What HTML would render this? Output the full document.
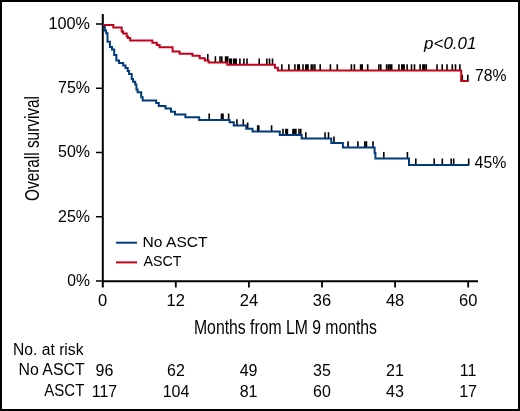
<!DOCTYPE html>
<html><head><meta charset="utf-8"><style>
html,body{margin:0;padding:0;background:#fff;}
svg{display:block;will-change:transform;}
text{font-family:"Liberation Sans",sans-serif;fill:#000;}
</style></head><body>
<svg width="520" height="411" viewBox="0 0 520 411">
<rect x="1" y="1" width="518" height="409" fill="#fff" stroke="#000" stroke-width="2"/><path d="M102.8 14V287.6M102 281.2H478" stroke="#000" stroke-width="2" fill="none"/><path d="M96 281.00H102M96 216.75H102M96 152.50H102M96 88.25H102M96 24.00H102" stroke="#000" stroke-width="1.6" fill="none"/><path d="M175.80 282V287.6M248.90 282V287.6M322.00 282V287.6M395.10 282V287.6M468.20 282V287.6" stroke="#000" stroke-width="1.8" fill="none"/><path d="M207.8 54.1V60.4M215.4 56.3V62.6M220.0 56.3V62.6M221.8 56.3V62.6M225.6 56.3V62.6M226.8 56.3V62.6M227.7 56.3V62.6M229.8 58.4V64.7M231.2 58.4V64.7M233.6 58.4V64.7M235.0 58.4V64.7M236.2 58.4V64.7M239.9 58.4V64.7M243.9 58.4V64.7M247.0 58.4V64.7M259.2 58.4V64.7M266.8 58.4V64.7M269.5 58.4V64.7M272.5 58.4V64.7M281.8 64.2V70.5M288.9 64.2V70.5M294.9 64.2V70.5M297.8 64.2V70.5M299.3 64.2V70.5M303.0 64.2V70.5M305.8 64.2V70.5M307.0 64.2V70.5M308.0 64.2V70.5M311.3 64.2V70.5M313.0 64.2V70.5M314.9 64.2V70.5M320.2 64.2V70.5M330.4 64.2V70.5M337.3 64.2V70.5M351.4 64.2V70.5M354.4 64.2V70.5M360.6 64.2V70.5M362.2 64.2V70.5M367.7 64.2V70.5M378.9 64.2V70.5M380.8 64.2V70.5M386.6 64.2V70.5M388.5 64.2V70.5M390.2 64.2V70.5M391.7 64.2V70.5M398.9 64.2V70.5M401.8 64.2V70.5M403.0 64.2V70.5M404.1 64.2V70.5M407.1 64.2V70.5M411.5 64.2V70.5M414.5 64.2V70.5M420.1 64.2V70.5M422.9 64.2V70.5M424.5 64.2V70.5M426.3 64.2V70.5M437.0 64.2V70.5M442.2 64.2V70.5M447.0 64.2V70.5M452.3 64.2V70.5M455.5 64.2V70.5M459.9 64.2V70.5M462.3 74.7V81.0M467.8 74.7V81.0M209.2 113.6V119.9M221.5 113.6V119.9M223.0 113.6V119.9M228.6 113.6V119.9M236.9 119.3V125.6M243.3 119.3V125.6M247.7 122.4V128.7M257.7 125.3V131.6M258.8 125.3V131.6M271.6 125.3V131.6M283.0 128.7V135.0M285.9 128.7V135.0M287.4 128.7V135.0M293.0 128.7V135.0M294.5 128.7V135.0M295.9 128.7V135.0M299.0 128.7V135.0M300.8 128.7V135.0M305.8 132.3V138.6M325.0 132.3V138.6M328.5 132.3V138.6M334.0 136.6V142.9M348.1 141.3V147.6M357.9 141.3V147.6M364.8 141.3V147.6M366.5 141.3V147.6M373.0 141.3V147.6M383.8 152.1V158.4M407.4 152.1V158.4M415.8 158.6V164.9M434.2 158.6V164.9M442.3 158.6V164.9M451.2 158.6V164.9M453.7 158.6V164.9M468.7 158.6V164.9" stroke="#000" stroke-width="1.6" fill="none"/><path d="M103.5 25.3 H104.8 V30.6 H106.1 V33.2 H107.5 V41.8 H109.9 V46.9 H112 V49.5 H114.2 V55 H116.4 V60.4 H119 V63 H123.2 V65.5 H125.5 V68 H127.7 V71 H129.1 V73.9 H131.7 V79 H133.1 V81.7 H135.2 V84.5 H136.4 V89.6 H137.6 V92.3 H141.2 V97.3 H142.7 V100.6 H156.2 V103.1 H158.8 V106 H165.5 V108.6 H171 V111.7 H175 V114.6 H185.4 V117.2 H199.2 V119.9 H229.6 V122.2 H233.8 V125.6 H246.2 V128.7 H252.5 V131.6 H279.8 V135 H301.7 V138.6 H331.3 V142.9 H342.9 V147.6 H374.6 V153 H375.4 V158.4 H409 V164.9 H469.2" stroke="#013b7b" stroke-width="2" fill="none" stroke-linejoin="miter" stroke-linecap="butt"/><path d="M103.5 25.1 H113.3 V27.4 H121.7 V31.4 H123.2 V33.5 H126.7 V36.4 H128 V38 H130.2 V40.5 H152.4 V42.8 H156.8 V44.9 H159.6 V47.2 H172.6 V51.4 H179.6 V53.8 H192.5 V55.8 H199.7 V58.2 H204.8 V60.4 H208.6 V62.6 H227.3 V64.7 H274.9 V67.8 H277.9 V70.5 H461.2 V81 H468.8" stroke="#c0021c" stroke-width="2" fill="none" stroke-linejoin="miter" stroke-linecap="butt"/><path d="M116 242.7H137" stroke="#013b7b" stroke-width="2"/><path d="M116 262.4H137" stroke="#c0021c" stroke-width="2"/>
<text x="90" y="28.6" font-size="17" text-anchor="end" textLength="41.5" lengthAdjust="spacingAndGlyphs">100%</text><text x="90" y="93.2" font-size="17" text-anchor="end" textLength="32" lengthAdjust="spacingAndGlyphs">75%</text><text x="90" y="157.4" font-size="17" text-anchor="end" textLength="32" lengthAdjust="spacingAndGlyphs">50%</text><text x="90" y="222.4" font-size="17" text-anchor="end" textLength="32" lengthAdjust="spacingAndGlyphs">25%</text><text x="90" y="285.9" font-size="17" text-anchor="end" textLength="22.7" lengthAdjust="spacingAndGlyphs">0%</text><text x="102.7" y="306.2" font-size="16.5" text-anchor="middle">0</text><text x="175.8" y="306.2" font-size="16.5" text-anchor="middle">12</text><text x="248.9" y="306.2" font-size="16.5" text-anchor="middle">24</text><text x="322.0" y="306.2" font-size="16.5" text-anchor="middle">36</text><text x="395.1" y="306.2" font-size="16.5" text-anchor="middle">48</text><text x="468.2" y="306.2" font-size="16.5" text-anchor="middle">60</text><text x="194" y="334" font-size="20" textLength="183" lengthAdjust="spacingAndGlyphs">Months from LM 9 months</text><text transform="translate(38.5 201) rotate(-90)" font-size="20" textLength="105" lengthAdjust="spacingAndGlyphs">Overall survival</text><text x="424" y="48.8" font-size="16.5" textLength="52.5" lengthAdjust="spacingAndGlyphs" font-style="italic">p&lt;0.01</text><text x="475" y="81.2" font-size="17" textLength="31.5" lengthAdjust="spacingAndGlyphs">78%</text><text x="474.6" y="168.4" font-size="17" textLength="31.8" lengthAdjust="spacingAndGlyphs">45%</text><text x="142.6" y="246.8" font-size="15.5" textLength="65" lengthAdjust="spacingAndGlyphs">No ASCT</text><text x="143.5" y="266.4" font-size="15.5" textLength="38" lengthAdjust="spacingAndGlyphs">ASCT</text><text x="13" y="354.5" font-size="16" textLength="70.5" lengthAdjust="spacingAndGlyphs">No. at risk</text><text x="18.6" y="375.3" font-size="16" textLength="66" lengthAdjust="spacingAndGlyphs">No ASCT</text><text x="44.3" y="396.1" font-size="16" textLength="40" lengthAdjust="spacingAndGlyphs">ASCT</text><text x="104.5" y="375.5" font-size="16" text-anchor="middle">96</text><text x="104.5" y="396.5" font-size="16" text-anchor="middle">117</text><text x="176" y="375.5" font-size="16" text-anchor="middle">62</text><text x="176" y="396.5" font-size="16" text-anchor="middle">104</text><text x="248.6" y="375.5" font-size="16" text-anchor="middle">49</text><text x="248.6" y="396.5" font-size="16" text-anchor="middle">81</text><text x="322" y="375.5" font-size="16" text-anchor="middle">35</text><text x="322" y="396.5" font-size="16" text-anchor="middle">60</text><text x="395" y="375.5" font-size="16" text-anchor="middle">21</text><text x="395" y="396.5" font-size="16" text-anchor="middle">43</text><text x="468.1" y="375.5" font-size="16" text-anchor="middle">11</text><text x="468.1" y="396.5" font-size="16" text-anchor="middle">17</text>
</svg>
</body></html>
